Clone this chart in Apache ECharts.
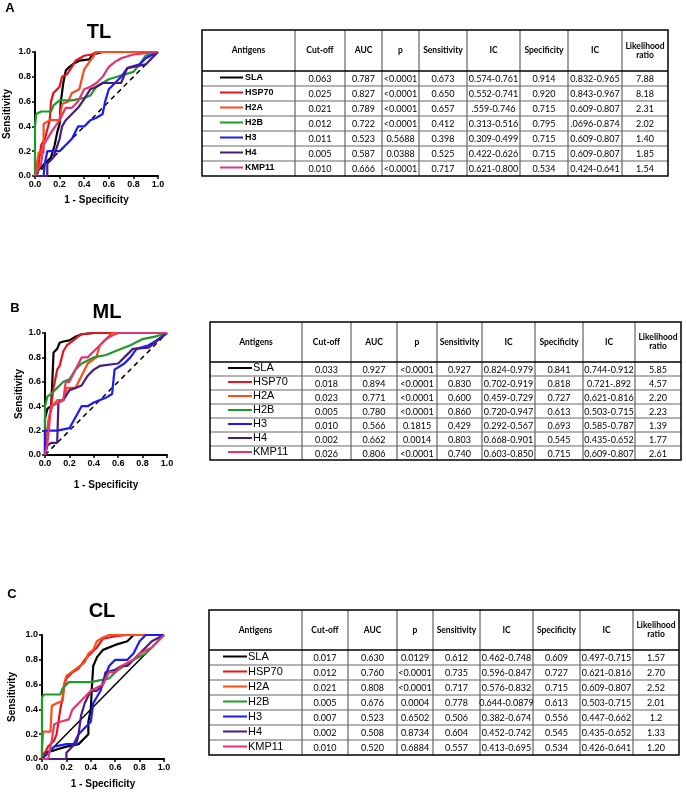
<!DOCTYPE html>
<html><head><meta charset="utf-8">
<script src="https://cdn.jsdelivr.net/npm/echarts@6/dist/echarts.min.js"></script>
<style>html,body{margin:0;padding:0;background:#fff}#c{width:686px;height:794px}</style>
</head><body><div id="c"></div>
<script>
// ---------------- DATA ----------------
const antigens = ['SLA','HSP70','H2A','H2B','H3','H4','KMP11'];
const colors = ['#000000','#e5141c','#ff4a1a','#1f9a2a','#1a1aff','#4a1c7e','#e8336e'];
const tickLabels = ['0.0','0.2','0.4','0.6','0.8','1.0'];
const tableHeader = ['Antigens','Cut-off','AUC','p','Sensitivity','IC','Specificity','IC','Likelihood\nratio'];

const tlTable = [
 ['0.063','0.787','<0.0001','0.673','0.574-0.761','0.914','0.832-0.965','7.88'],
 ['0.025','0.827','<0.0001','0.650','0.552-0.741','0.920','0.843-0.967','8.18'],
 ['0.021','0.789','<0.0001','0.657','.559-0.746','0.715','0.609-0.807','2.31'],
 ['0.012','0.722','<0.0001','0.412','0.313-0.516','0.795','.0696-0.874','2.02'],
 ['0.011','0.523','0.5688','0.398','0.309-0.499','0.715','0.609-0.807','1.40'],
 ['0.005','0.587','0.0388','0.525','0.422-0.626','0.715','0.609-0.807','1.85'],
 ['0.010','0.666','<0.0001','0.717','0.621-0.800','0.534','0.424-0.641','1.54']
];
const mlTable = [
 ['0.033','0.927','<0.0001','0.927','0.824-0.979','0.841','0.744-0.912','5.85'],
 ['0.018','0.894','<0.0001','0.830','0.702-0.919','0.818','0.721-.892','4.57'],
 ['0.023','0.771','<0.0001','0.600','0.459-0.729','0.727','0.621-0.816','2.20'],
 ['0.005','0.780','<0.0001','0.860','0.720-0.947','0.613','0.503-0.715','2.23'],
 ['0.010','0.566','0.1815','0.429','0.292-0.567','0.693','0.585-0.787','1.39'],
 ['0.002','0.662','0.0014','0.803','0.668-0.901','0.545','0.435-0.652','1.77'],
 ['0.026','0.806','<0.0001','0.740','0.603-0.850','0.715','0.609-0.807','2.61']
];
const clTable = [
 ['0.017','0.630','0.0129','0.612','0.462-0.748','0.609','0.497-0.715','1.57'],
 ['0.012','0.760','<0.0001','0.735','0.596-0.847','0.727','0.621-0.816','2.70'],
 ['0.021','0.808','<0.0001','0.717','0.576-0.832','0.715','0.609-0.807','2.52'],
 ['0.005','0.676','0.0004','0.778','0.644-0.0879','0.613','0.503-0.715','2.01'],
 ['0.007','0.523','0.6502','0.506','0.382-0.674','0.556','0.447-0.662','1.2'],
 ['0.002','0.508','0.8734','0.604','0.452-0.742','0.545','0.435-0.652','1.33'],
 ['0.010','0.520','0.6884','0.557','0.413-0.695','0.534','0.426-0.641','1.20']
];

// ROC curves (1-specificity, sensitivity)
const tlSLA = [[0,0],[0.03,0.05],[0.08,0.1],[0.13,0.15],[0.16,0.25],[0.18,0.35],[0.2,0.42],[0.21,0.6],[0.23,0.75],[0.25,0.85],[0.28,0.88],[0.32,0.91],[0.36,0.93],[0.44,0.94],[0.47,0.98],[0.55,1],[1,1]];
const tlHSP70 = [[0,0],[0.03,0.1],[0.05,0.25],[0.08,0.3],[0.12,0.45],[0.13,0.6],[0.15,0.67],[0.2,0.72],[0.22,0.8],[0.26,0.82],[0.3,0.88],[0.33,0.93],[0.4,0.97],[0.46,0.98],[0.5,1],[1,1]];
const tlH2A = [[0,0],[0.03,0.19],[0.07,0.19],[0.07,0.42],[0.12,0.45],[0.2,0.45],[0.22,0.58],[0.27,0.6],[0.3,0.67],[0.36,0.7],[0.4,0.86],[0.45,0.93],[0.5,1],[1,1]];
const tlH2B = [[0,0],[0,0.4],[0.01,0.5],[0.05,0.52],[0.13,0.52],[0.15,0.57],[0.2,0.61],[0.3,0.61],[0.4,0.63],[0.45,0.65],[0.5,0.72],[0.6,0.78],[0.7,0.81],[0.8,0.84],[0.85,0.9],[0.9,0.97],[1,1]];
const tlH3 = [[0,0],[0.07,0],[0.08,0.1],[0.1,0.2],[0.2,0.2],[0.25,0.25],[0.3,0.3],[0.35,0.4],[0.4,0.4],[0.45,0.45],[0.5,0.47],[0.55,0.5],[0.57,0.6],[0.6,0.7],[0.65,0.75],[0.7,0.8],[0.75,0.87],[0.85,0.9],[0.9,0.95],[1,1]];
const tlH4 = [[0,0],[0.1,0],[0.1,0.1],[0.15,0.15],[0.2,0.3],[0.22,0.4],[0.25,0.45],[0.3,0.5],[0.35,0.55],[0.4,0.62],[0.45,0.7],[0.5,0.72],[0.55,0.75],[0.7,0.75],[0.75,0.87],[0.8,0.88],[0.9,0.9],[1,1]];
const tlKMP11 = [[0,0],[0.05,0.1],[0.07,0.25],[0.1,0.3],[0.15,0.38],[0.2,0.45],[0.25,0.55],[0.3,0.55],[0.35,0.6],[0.4,0.7],[0.45,0.72],[0.5,0.75],[0.55,0.8],[0.6,0.88],[0.65,0.92],[0.7,0.95],[0.8,0.98],[1,1]];

const mlSLA = [[0,0],[0,0.3],[0.02,0.38],[0.05,0.4],[0.06,0.6],[0.07,0.84],[0.1,0.87],[0.12,0.92],[0.15,0.93],[0.2,0.94],[0.25,0.97],[0.3,0.99],[0.4,1],[1,1]];
const mlHSP70 = [[0,0],[0.02,0.2],[0.05,0.4],[0.07,0.55],[0.09,0.65],[0.1,0.7],[0.12,0.73],[0.15,0.85],[0.18,0.9],[0.22,0.93],[0.27,0.97],[0.3,0.99],[0.4,1],[1,1]];
const mlH2A = [[0,0],[0.03,0.3],[0.06,0.4],[0.1,0.45],[0.15,0.45],[0.18,0.55],[0.25,0.55],[0.3,0.65],[0.35,0.75],[0.42,0.8],[0.45,0.9],[0.5,0.95],[0.55,1],[1,1]];
const mlH2B = [[0,0],[0,0.4],[0.02,0.48],[0.05,0.5],[0.1,0.55],[0.15,0.6],[0.2,0.62],[0.25,0.7],[0.3,0.75],[0.4,0.8],[0.5,0.82],[0.6,0.86],[0.7,0.9],[0.8,0.95],[0.9,0.97],[1,1]];
const mlH3 = [[0,0],[0,0.2],[0.1,0.2],[0.2,0.22],[0.3,0.4],[0.35,0.4],[0.4,0.43],[0.45,0.45],[0.5,0.47],[0.55,0.5],[0.57,0.7],[0.65,0.75],[0.7,0.8],[0.75,0.87],[0.85,0.9],[0.9,0.93],[1,1]];
const mlH4 = [[0,0],[0.02,0.08],[0.05,0.1],[0.1,0.1],[0.11,0.43],[0.15,0.45],[0.2,0.53],[0.25,0.55],[0.3,0.57],[0.35,0.65],[0.4,0.7],[0.45,0.73],[0.6,0.75],[0.65,0.8],[0.72,0.87],[0.85,0.88],[0.9,0.92],[1,1]];
const mlKMP11 = [[0,0],[0.02,0.1],[0.05,0.4],[0.15,0.45],[0.17,0.6],[0.2,0.6],[0.25,0.7],[0.3,0.8],[0.35,0.8],[0.4,0.85],[0.45,0.9],[0.5,0.95],[0.55,0.98],[0.6,1],[1,1]];

const clSLA = [[0,0],[0.02,0.05],[0.1,0.07],[0.2,0.1],[0.3,0.12],[0.38,0.2],[0.38,0.3],[0.4,0.4],[0.41,0.6],[0.42,0.75],[0.45,0.82],[0.5,0.88],[0.6,0.92],[0.7,0.95],[0.75,1],[1,1]];
const clHSP70 = [[0,0],[0.05,0.1],[0.1,0.15],[0.12,0.2],[0.15,0.4],[0.17,0.5],[0.18,0.58],[0.2,0.65],[0.25,0.7],[0.3,0.73],[0.35,0.8],[0.4,0.85],[0.45,0.9],[0.5,0.97],[0.6,0.99],[0.7,1],[1,1]];
const clH2A = [[0,0],[0,0.1],[0.01,0.22],[0.07,0.22],[0.08,0.43],[0.12,0.45],[0.17,0.47],[0.18,0.6],[0.2,0.67],[0.27,0.72],[0.35,0.78],[0.38,0.85],[0.42,0.88],[0.45,0.95],[0.5,0.98],[0.55,1],[1,1]];
const clH2B = [[0,0],[0,0.5],[0.02,0.52],[0.15,0.52],[0.17,0.57],[0.22,0.62],[0.4,0.62],[0.45,0.63],[0.55,0.65],[0.6,0.7],[0.7,0.77],[0.75,0.8],[0.85,0.85],[0.9,0.9],[0.95,0.95],[1,1]];
const clH3 = [[0,0],[0.02,0.02],[0.1,0.1],[0.2,0.12],[0.28,0.12],[0.3,0.2],[0.35,0.25],[0.4,0.3],[0.42,0.45],[0.48,0.55],[0.5,0.62],[0.55,0.75],[0.6,0.8],[0.7,0.8],[0.75,0.85],[0.8,0.95],[0.85,1],[1,1]];
const clH4 = [[0,0],[0.2,0],[0.2,0.05],[0.25,0.1],[0.3,0.2],[0.32,0.35],[0.35,0.45],[0.4,0.55],[0.45,0.55],[0.5,0.6],[0.52,0.7],[0.6,0.72],[0.65,0.75],[0.7,0.75],[0.8,0.85],[0.85,0.9],[0.9,0.95],[1,1]];
const clKMP11 = [[0,0],[0.05,0],[0.08,0.15],[0.1,0.28],[0.15,0.3],[0.22,0.32],[0.25,0.4],[0.3,0.45],[0.35,0.5],[0.4,0.55],[0.5,0.6],[0.55,0.7],[0.6,0.7],[0.65,0.75],[0.75,0.8],[0.8,0.85],[0.9,0.9],[0.95,0.95],[1,1]];

const diagonal = [[0,0],[1,1]];

// ---------------- LAYOUT ----------------
const FONT = 'Liberation Sans, Arial, sans-serif';
const TFONT = 'Lato, Carlito, sans-serif';
const panels = [
  {title:'TL', letter:'A', letterPos:[10,8], titlePos:[99,32], grid:{left:35, top:52, width:123, height:124}, xGap:19, yGap:23, diagDash:true,
   curves:[tlSLA,tlHSP70,tlH2A,tlH2B,tlH3,tlH4,tlKMP11], table:tlTable,
   tbl:{cols:[202,295,345,382,419,467,520,568,622,668], top:30, headH:41, rowH:15, lx0:220, lx1:243, nx:245, nFont:'bold 9px '+FONT}},
  {title:'ML', letter:'B', letterPos:[15,308], titlePos:[107,312], grid:{left:45, top:333, width:122, height:122}, xGap:25, yGap:21, diagDash:true,
   curves:[mlSLA,mlHSP70,mlH2A,mlH2B,mlH3,mlH4,mlKMP11], table:mlTable,
   tbl:{cols:[210,302,351,397,437,482,535,583,635,681], top:322, headH:40, rowH:14, lx0:228, lx1:252, nx:253, nFont:'11px '+FONT}},
  {title:'CL', letter:'C', letterPos:[12,594], titlePos:[102,611], grid:{left:42, top:635, width:122, height:124}, xGap:20, yGap:25, diagDash:false,
   curves:[clSLA,clHSP70,clH2A,clH2B,clH3,clH4,clKMP11], table:clTable,
   tbl:{cols:[209,302,348,397,433,480,533,580,633,679], top:610, headH:40, rowH:15, lx0:223, lx1:247, nx:248, nFont:'11px '+FONT}}
];

const grids = [], xAxes = [], yAxes = [], series = [], graphics = [];
const fmt = v => tickLabels[Math.round(v*5)];

function txt(x, y, text, font, align, valign, color){
  return {type:'text', x:x, y:y, silent:true, z:100,
    style:{text:text, font:font, fill:color||'#000', align:align||'center', verticalAlign:valign||'middle',
           textAlign:align||'center', textVerticalAlign:valign||'middle'}};
}
function ln(x1,y1,x2,y2,stroke,w){
  return {type:'line', silent:true, z:90, shape:{x1:x1,y1:y1,x2:x2,y2:y2}, style:{stroke:stroke, lineWidth:w}};
}

panels.forEach((p, i) => {
  grids.push(Object.assign({containLabel:false}, p.grid));
  const axisCommon = {
    type:'value', gridIndex:i, min:0, max:1, interval:0.2,
    nameLocation:'middle',
    nameTextStyle:{fontWeight:'bold', fontSize:10, fontFamily:FONT, color:'#000'},
    axisLine:{show:true, onZero:false, lineStyle:{color:'#000', width:2}},
    axisTick:{show:true, length:3, lineStyle:{color:'#000', width:1.5}},
    axisLabel:{fontSize:9, fontWeight:'bold', color:'#000', fontFamily:FONT, margin:4, formatter:fmt},
    splitLine:{show:false}
  };
  xAxes.push(Object.assign({}, axisCommon, {name:'1 - Specificity', nameGap:p.xGap}));
  yAxes.push(Object.assign({}, axisCommon, {name:'Sensitivity', nameGap:p.yGap}));
  series.push({type:'line', xAxisIndex:i, yAxisIndex:i, data:diagonal, symbol:'none', silent:true,
    lineStyle:{color:'#000', width:1.5, type:p.diagDash ? [5,4] : 'solid'}, z:1});
  p.curves.forEach((c, k) => {
    series.push({type:'line', name:antigens[k], xAxisIndex:i, yAxisIndex:i, data:c, symbol:'none', silent:true,
      lineStyle:{color:colors[k], width:2.2}, z:2+k});
  });
  // letters & titles
  graphics.push(txt(p.letterPos[0], p.letterPos[1], p.letter, 'bold 13px '+FONT));
  graphics.push(txt(p.titlePos[0], p.titlePos[1], p.title, 'bold 20px '+FONT));
  // table
  const t = p.tbl, cols = t.cols;
  const bottom = t.top + t.headH + t.rowH * antigens.length;
  for (let c = 1; c < cols.length - 1; c++) graphics.push(ln(cols[c], t.top, cols[c], bottom, '#444', 1));
  for (let r = 1; r < antigens.length; r++) {
    const y = t.top + t.headH + r * t.rowH;
    graphics.push(ln(cols[0], y, cols[cols.length-1], y, '#666', 1));
  }
  graphics.push(ln(cols[0], t.top + t.headH, cols[cols.length-1], t.top + t.headH, '#000', 1.5));
  graphics.push({type:'rect', silent:true, z:95, shape:{x:cols[0], y:t.top, width:cols[cols.length-1]-cols[0], height:bottom-t.top},
    style:{fill:'none', stroke:'#000', lineWidth:1.5}});
  tableHeader.forEach((h, c) => {
    graphics.push(txt((cols[c]+cols[c+1])/2, t.top + t.headH/2, h, 'bold 8.5px '+TFONT));
  });
  antigens.forEach((a, r) => {
    const yc = t.top + t.headH + r * t.rowH + t.rowH/2;
    graphics.push(ln(t.lx0, yc-1, t.lx1, yc-1, colors[r], 2));
    graphics.push(txt(t.nx, yc-1, a, t.nFont, 'left'));
    p.table[r].forEach((v, c) => {
      graphics.push(txt((cols[c+1]+cols[c+2])/2, yc+1, v, '9px '+TFONT));
    });
  });
});

const chart = echarts.init(document.getElementById('c'), null, {renderer:'canvas'});
chart.setOption({
  animation:false,
  backgroundColor:'#fff',
  grid:grids, xAxis:xAxes, yAxis:yAxes, series:series,
  graphic:{elements:graphics}
});
</script></body></html>
